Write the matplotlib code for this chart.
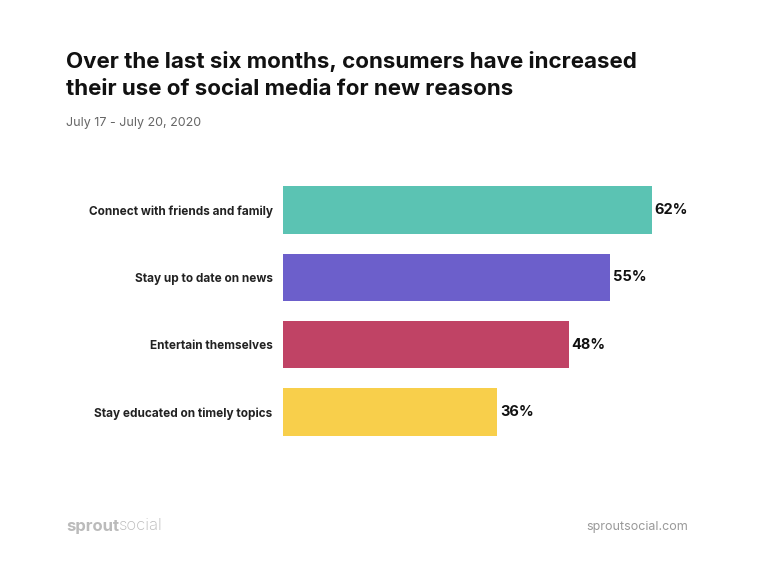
import matplotlib.pyplot as plt

categories = ["Connect with friends and family", "Stay up to date on news",
              "Entertain themselves", "Stay educated on timely topics"]
values = [62, 55, 48, 36]
colors = ["#5BC3B3", "#6C5FCB", "#C04365", "#F8CF4B"]

plt.rcParams['font.family'] = ['Inter', 'DejaVu Sans']

fig = plt.figure(figsize=(7.68, 5.76), dpi=100)
ax = fig.add_axes([283 / 768, 1 - 445.5 / 576, 417 / 768, 269 / 576])

pos = list(range(len(categories)))
ax.barh(pos, values, height=0.71, color=colors)
ax.set_xlim(0, 417 / 5.95)
ax.set_ylim(3.5, -0.5)

for p, v in zip(pos, values):
    ax.annotate(f"{v}%", (v, p), xytext=(2, 0), textcoords="offset points",
                va="center", ha="left", fontsize=10.5, fontweight="bold", color="#111111")

ax.set_yticks(pos)
ax.set_yticklabels(categories, fontsize=8.5, fontweight="bold", color="#222222")
ax.tick_params(axis="y", length=0, pad=7.5)
ax.set_xticks([])
for s in ax.spines.values():
    s.set_visible(False)

fig.text(66 / 768, 1 - 61 / 576, "Over the last six months, consumers have increased",
         fontsize=16.1, fontweight="bold", color="#111111", va="center")
fig.text(66 / 768, 1 - 89 / 576, "their use of social media for new reasons",
         fontsize=16.1, fontweight="bold", color="#111111", va="center")
fig.text(66 / 768, 1 - 123 / 576, "July 17 - July 20, 2020",
         fontsize=9, color="#666666", va="center")

t = fig.text(66 / 768, 1 - 526 / 576, "sprout", fontsize=12, fontweight="bold",
             color="#BBBBBB", va="center")
fig.canvas.draw()
bb = t.get_window_extent()
fig.text(bb.x1 / 768, 1 - 526 / 576, "social", fontsize=12, fontweight="light",
         color="#BBBBBB", va="center")
fig.text(688 / 768, 1 - 527 / 576, "sproutsocial.com", fontsize=9,
         color="#999999", va="center", ha="right")

fig.savefig("out.png", dpi=100)
